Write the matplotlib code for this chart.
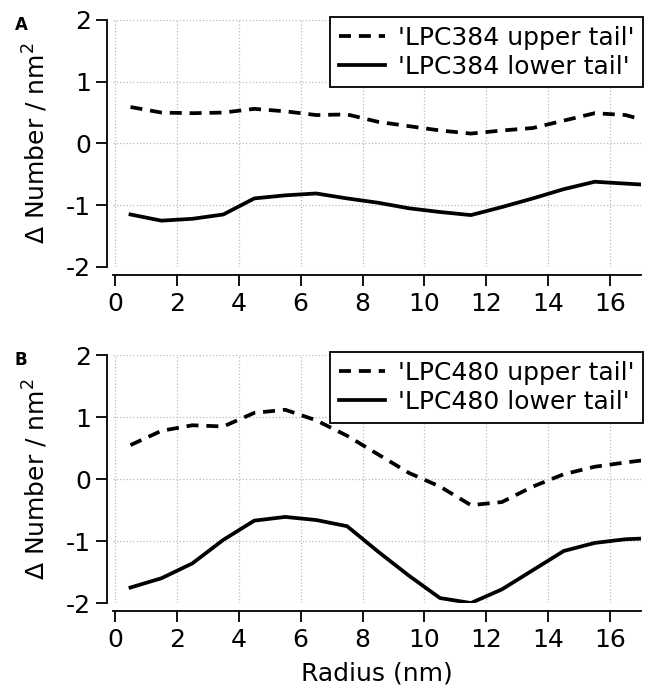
# Radial tail density differences, LPC384 and LPC480
from matplotlib import pyplot as plt
import numpy as np

# data
radius = [0.5, 1.5, 2.5, 3.5, 4.5, 5.5, 6.5, 7.5, 8.5, 9.5, 10.5, 11.5, 12.5, 13.5, 14.5, 15.5, 16.5, 17.5]

lpc384_upper = [0.59, 0.50, 0.49, 0.50, 0.56, 0.52, 0.46, 0.47, 0.35, 0.28, 0.21, 0.16, 0.21, 0.25, 0.37, 0.49, 0.46, 0.32]
lpc384_lower = [-1.15, -1.25, -1.22, -1.15, -0.89, -0.84, -0.81, -0.89, -0.96, -1.05, -1.11, -1.16, -1.03, -0.89, -0.74, -0.62, -0.65, -0.68]

lpc480_upper = [0.55, 0.78, 0.87, 0.85, 1.07, 1.12, 0.95, 0.70, 0.40, 0.10, -0.12, -0.42, -0.37, -0.12, 0.08, 0.20, 0.27, 0.33]
lpc480_lower = [-1.75, -1.60, -1.36, -0.98, -0.67, -0.61, -0.66, -0.76, -1.17, -1.56, -1.92, -2.00, -1.78, -1.47, -1.16, -1.03, -0.97, -0.95]

panels = [
    ('A', "'LPC384 upper tail'", "'LPC384 lower tail'", lpc384_upper, lpc384_lower),
    ('B', "'LPC480 upper tail'", "'LPC480 lower tail'", lpc480_upper, lpc480_lower),
]

plt.rcParams['font.family'] = 'DejaVu Sans'
plt.rcParams['axes.unicode_minus'] = False

fig = plt.figure(figsize=(6.48, 6.92), dpi=100)
positions = [[0.1744, 0.6142, 0.815, 0.357], [0.1744, 0.1286, 0.815, 0.358]]

for pos, (letter, lab_up, lab_lo, up, lo) in zip(positions, panels):
    ax = fig.add_axes(pos)
    ax.plot(radius, up, color='black', lw=2.7, ls=(0, (3.2, 2.1)), label=lab_up)
    ax.plot(radius, lo, color='black', lw=2.7, ls='-', label=lab_lo)

    ax.set_xlim(-0.065, 17)
    ax.set_ylim(-2, 2)
    ax.set_xticks(np.arange(0, 17, 2))
    ax.set_yticks([-2, -1, 0, 1, 2])
    ax.grid(True, ls=':', color='#bbbbbb', lw=0.9)
    ax.tick_params(labelsize=18, width=1.3, length=8, color='black', pad=4)

    for s in ['top', 'right']:
        ax.spines[s].set_visible(False)
    ax.spines['left'].set_position(('outward', 4))
    ax.spines['bottom'].set_position(('outward', 6))
    ax.spines['left'].set_linewidth(1.3)
    ax.spines['bottom'].set_linewidth(1.3)

    ax.set_ylabel('\u0394 Number / nm$^2$', fontsize=18, labelpad=11)

    leg = ax.legend(loc='upper right', bbox_to_anchor=(1.004, 1.012), fontsize=18,
                    frameon=True, fancybox=False, handlelength=1.85,
                    borderpad=0.35, labelspacing=0.2, handletextpad=0.5,
                    borderaxespad=0, framealpha=1)
    leg.get_frame().set_edgecolor('black')
    leg.get_frame().set_linewidth(1.3)

    fig.text(0.023, pos[1] + pos[3] - 0.014, letter, fontsize=12, fontweight='bold')

ax.set_xlabel('Radius (nm)', fontsize=18, labelpad=7)

fig.savefig('out.png', dpi=100)
